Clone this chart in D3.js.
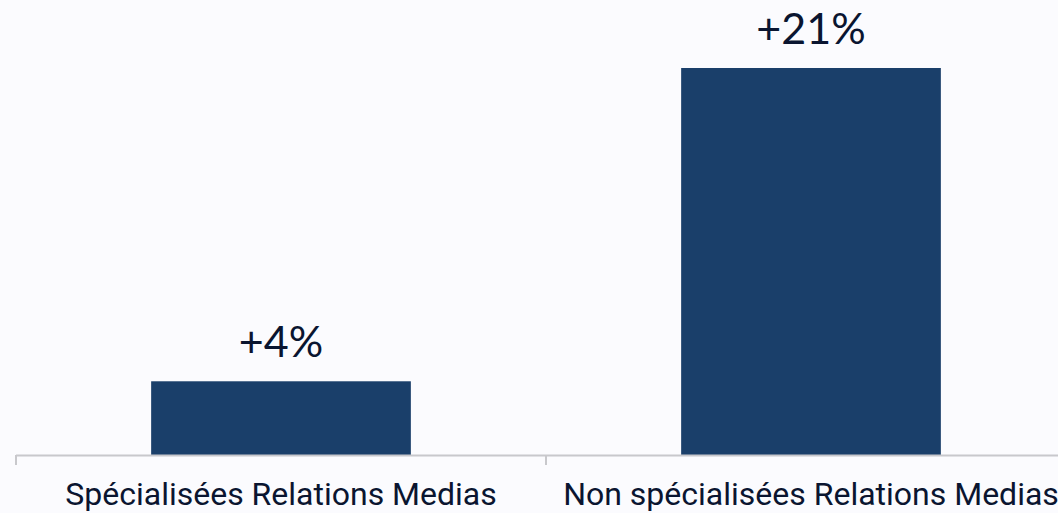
<!DOCTYPE html>
<html>
<head>
<meta charset="utf-8">
<script src="https://cdn.jsdelivr.net/npm/d3@7"></script>
<style>
  html, body { margin: 0; padding: 0; background: #fbfbfe; }
  svg { display: block; }
</style>
</head>
<body>
<svg id="chart" width="1058" height="513"></svg>
<script>
// Growth by agency type
const categories = ["Spécialisées Relations Medias", "Non spécialisées Relations Medias"];
const values = [4, 21];
const valueLabels = ["+4%", "+21%"];

const width = 1058, height = 513;
const baseline = 455;
const svg = d3.select("#chart");

svg.append("rect").attr("width", width).attr("height", height).attr("fill", "#fbfbfe");

const x = d3.scaleBand()
  .domain(categories)
  .range([16, 1076])
  .paddingInner(0.51)
  .paddingOuter(0.255);

const y = d3.scaleLinear()
  .domain([0, 21])
  .range([baseline, 68]);

// bars
svg.selectAll("rect.bar")
  .data(values)
  .join("rect")
  .attr("class", "bar")
  .attr("x", (d, i) => x(categories[i]))
  .attr("y", d => y(d))
  .attr("width", x.bandwidth())
  .attr("height", d => baseline - y(d))
  .attr("fill", "#1a3f6a");

// value labels
svg.selectAll("text.val")
  .data(values)
  .join("text")
  .attr("class", "val")
  .attr("x", (d, i) => x(categories[i]) + x.bandwidth() / 2)
  .attr("y", d => y(d) - 24)
  .attr("text-anchor", "middle")
  .attr("font-family", "Lato, 'Open Sans', sans-serif")
  .attr("font-size", 43)
  .attr("fill", "#0a1530")
  .text((d, i) => valueLabels[i]);

// category axis with ticks at band boundaries
const axisG = svg.append("g");
axisG.append("line")
  .attr("x1", 16).attr("x2", width)
  .attr("y1", baseline + 0.5).attr("y2", baseline + 0.5)
  .attr("stroke", "#c8c8cc").attr("stroke-width", 2);

const step = x.step();
const tickXs = d3.range(categories.length + 1).map(i => 16 + i * step);
axisG.selectAll("line.tick")
  .data(tickXs)
  .join("line")
  .attr("class", "tick")
  .attr("x1", d => d).attr("x2", d => d)
  .attr("y1", baseline).attr("y2", baseline + 10)
  .attr("stroke", "#c8c8cc").attr("stroke-width", 2);

axisG.selectAll("text.cat")
  .data(categories)
  .join("text")
  .attr("class", "cat")
  .attr("x", d => x(d) + x.bandwidth() / 2)
  .attr("y", 505)
  .attr("text-anchor", "middle")
  .attr("font-family", "Roboto, sans-serif")
  .attr("font-size", 32)
  .attr("fill", "#0a1530")
  .text(d => d);
</script>
</body>
</html>
